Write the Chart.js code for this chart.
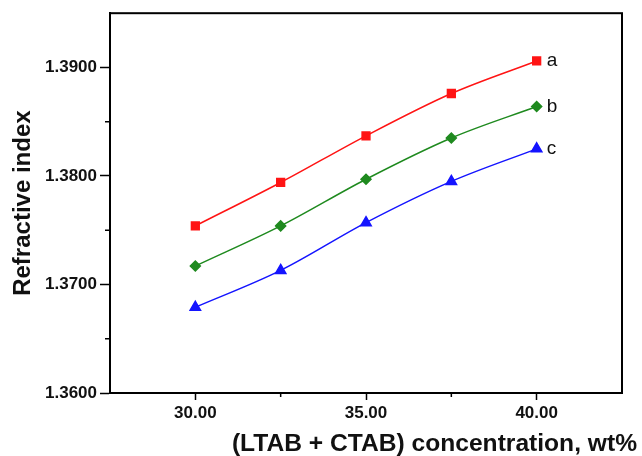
<!DOCTYPE html>
<html>
<head>
<meta charset="utf-8">
<script src="https://cdn.jsdelivr.net/npm/chart.js@4.4.1/dist/chart.umd.min.js"></script>
<style>
  body { margin: 0; background: #fff; }
  #wrap { width: 642px; height: 456px; position: relative; }
</style>
</head>
<body>
<div id="wrap"><canvas id="chart"></canvas></div>
<script>
// concentrations (wt%)
const concentrations = [30.0, 32.5, 35.0, 37.5, 40.0];
// refractive index series
const seriesA = [1.3754, 1.3794, 1.3837, 1.3876, 1.3906];
const seriesB = [1.3717, 1.3754, 1.3797, 1.3835, 1.3864];
const seriesC = [1.3679, 1.3713, 1.3757, 1.3795, 1.3825];
const seriesNames = ["a", "b", "c"];
const xMajorTicks = [30, 35, 40];
const yMajorTicks = [1.36, 1.37, 1.38, 1.39];

const FONT = "'Liberation Sans', Arial, sans-serif";

function pts(ys) {
  return concentrations.map((x, i) => ({ x: x, y: ys[i] }));
}
function isMajor(v, list) {
  return list.some((m) => Math.abs(m - v) < 1e-7);
}

// frame, minor ticks, end labels, x title
const decor = {
  id: "decor",
  afterDraw(chart) {
    const ctx = chart.ctx;
    const area = chart.chartArea;
    const xs = chart.scales.x;
    const ys = chart.scales.y;
    ctx.save();
    ctx.strokeStyle = "#000";
    ctx.lineWidth = 2;
    ctx.strokeRect(area.left, area.top, area.right - area.left, area.bottom - area.top);

    // minor ticks
    ctx.lineWidth = 1.5;
    ctx.beginPath();
    ys.ticks.forEach((t) => {
      if (!isMajor(t.value, yMajorTicks) && t.value < ys.max - 1e-7) {
        const py = ys.getPixelForValue(t.value);
        ctx.moveTo(area.left - 5, py);
        ctx.lineTo(area.left, py);
      }
    });
    xs.ticks.forEach((t) => {
      if (!isMajor(t.value, xMajorTicks) && t.value > xs.min && t.value < xs.max) {
        const px = xs.getPixelForValue(t.value);
        ctx.moveTo(px, area.bottom);
        ctx.lineTo(px, area.bottom + 4);
      }
    });
    ctx.stroke();

    // series labels
    ctx.font = "19px " + FONT;
    ctx.fillStyle = "#111";
    ctx.textBaseline = "middle";
    ctx.textAlign = "left";
    chart.data.datasets.forEach((ds, i) => {
      const meta = chart.getDatasetMeta(i);
      const last = meta.data[meta.data.length - 1];
      ctx.fillText(seriesNames[i], last.x + 10, last.y);
    });

    // x axis title
    ctx.font = "bold 24.6px " + FONT;
    ctx.textAlign = "right";
    ctx.textBaseline = "middle";
    ctx.fillText("(LTAB + CTAB) concentration, wt%", chart.width - 5, 444);
    ctx.restore();
  },
};

function mainEvent() {
  const ctx = document.getElementById("chart");
  new Chart(ctx, {
    type: "line",
    data: {
      datasets: [
        { label: "a", data: pts(seriesA), borderColor: "#ff1414", backgroundColor: "#ff1414",
          pointStyle: "rect", pointRadius: 5.5, borderWidth: 1.5 },
        { label: "b", data: pts(seriesB), borderColor: "#1f8a1f", backgroundColor: "#1f8a1f",
          pointStyle: "rectRot", pointRadius: 5, borderWidth: 1.5 },
        { label: "c", data: pts(seriesC), borderColor: "#1414ff", backgroundColor: "#1414ff",
          pointStyle: "triangle", pointRadius: 6, borderWidth: 1.5 },
      ],
    },
    options: {
      responsive: true,
      maintainAspectRatio: false,
      animation: false,
      events: [],
      layout: { padding: { top: 13, right: 20, left: 0, bottom: 0 } },
      elements: { line: { tension: 0.35, cubicInterpolationMode: "monotone" } },
      plugins: { legend: { display: false }, tooltip: { enabled: false } },
      scales: {
        x: {
          type: "linear",
          min: 27.5,
          max: 42.5,
          afterFit: (s) => { s.height = 63; },
          border: { color: "#000", width: 2 },
          grid: {
            drawOnChartArea: false,
            tickLength: 7,
            tickWidth: 1.5,
            tickColor: (c) => (c.tick && isMajor(c.tick.value, xMajorTicks) ? "#000" : "rgba(0,0,0,0)"),
          },
          ticks: {
            stepSize: 2.5,
            autoSkip: false,
            maxRotation: 0,
            padding: 3,
            color: "#111",
            font: { family: FONT, size: 17, weight: "bold" },
            callback: (v) => (isMajor(v, xMajorTicks) ? v.toFixed(2) : ""),
          },
        },
        y: {
          type: "linear",
          min: 1.36,
          max: 1.395,
          afterFit: (s) => { s.width = 110; },
          border: { color: "#000", width: 2 },
          grid: {
            drawOnChartArea: false,
            tickLength: 10,
            tickWidth: 1.5,
            tickColor: (c) => (c.tick && isMajor(c.tick.value, yMajorTicks) ? "#000" : "rgba(0,0,0,0)"),
          },
          ticks: {
            stepSize: 0.005,
            autoSkip: false,
            padding: 3,
            color: "#111",
            font: { family: FONT, size: 17, weight: "bold" },
            callback: (v) => (isMajor(v, yMajorTicks) ? v.toFixed(4) : ""),
          },
          title: {
            display: true,
            text: "Refractive index",
            color: "#111",
            padding: { top: 9, bottom: 0 },
            font: { family: FONT, size: 24, weight: "bold" },
          },
        },
      },
    },
    plugins: [decor],
  });
}
document.addEventListener("DOMContentLoaded", () => mainEvent());
</script>
</body>
</html>
